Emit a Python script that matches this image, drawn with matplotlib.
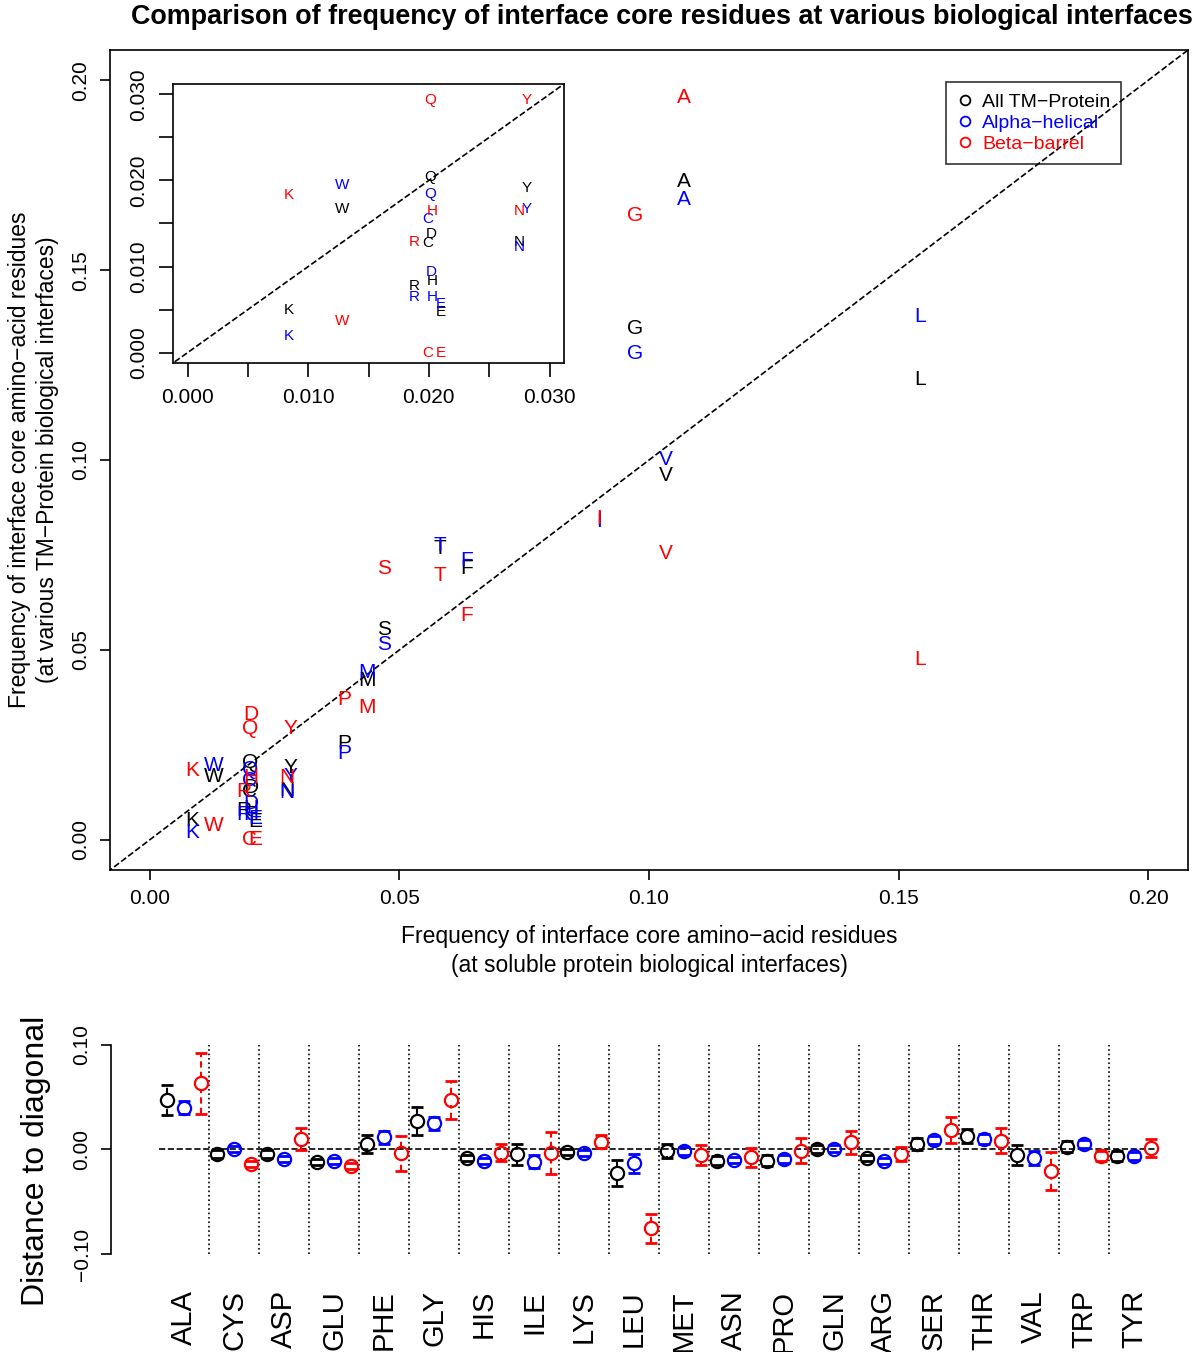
import numpy as np
import matplotlib.pyplot as plt
from matplotlib.lines import Line2D

plt.rcParams['font.family'] = ['Liberation Sans', 'DejaVu Sans']

# one-letter codes and three-letter names
aa = list("ACDEFGHIKLMNPQRSTVWY")
names = ['ALA', 'CYS', 'ASP', 'GLU', 'PHE', 'GLY', 'HIS', 'ILE', 'LYS', 'LEU',
         'MET', 'ASN', 'PRO', 'GLN', 'ARG', 'SER', 'THR', 'VAL', 'TRP', 'TYR']

# frequency at soluble protein interfaces (x)
soluble = [0.1070, 0.0199, 0.0202, 0.0210, 0.0635, 0.0972, 0.0203, 0.0900, 0.0084, 0.1543,
           0.0435, 0.0275, 0.0390, 0.0201, 0.0188, 0.0469, 0.0580, 0.1033, 0.0128, 0.0281]
# frequency at TM-protein interfaces (y)
all_tm = [0.1734, 0.0127, 0.0138, 0.0047, 0.0713, 0.1346, 0.0083, 0.0843, 0.0050, 0.1213,
          0.0418, 0.0129, 0.0254, 0.0204, 0.0077, 0.0554, 0.0767, 0.0958, 0.0167, 0.0191]
alpha = [0.1685, 0.0155, 0.0094, 0.0056, 0.0735, 0.1280, 0.0065, 0.0838, 0.0019, 0.1379,
         0.0440, 0.0123, 0.0228, 0.0184, 0.0065, 0.0515, 0.0775, 0.1002, 0.0195, 0.0167]
beta = [0.1954, 0.0000, 0.0330, 0.0000, 0.0590, 0.1644, 0.0164, 0.0846, 0.0183, 0.0475,
        0.0349, 0.0165, 0.0368, 0.0293, 0.0128, 0.0713, 0.0696, 0.0753, 0.0037, 0.0293]

# distance to diagonal with error
dist_all = [0.0474, -0.0046, -0.0046, -0.0117, 0.0053, 0.0273, -0.0085, -0.0046, -0.0027, -0.0228,
            -0.0014, -0.0107, -0.0107, 0.0002, -0.0085, 0.0053, 0.0129, -0.0053, 0.0027, -0.0062]
err_all = [0.014, 0.004, 0.004, 0.003, 0.009, 0.0135, 0.003, 0.010, 0.003, 0.0125,
           0.007, 0.004, 0.005, 0.004, 0.003, 0.006, 0.007, 0.010, 0.005, 0.005]
dist_alpha = [0.0400, 0.0005, -0.0091, -0.0110, 0.0117, 0.0250, -0.0107, -0.0117, -0.0037, -0.0132,
              -0.0014, -0.0101, -0.0094, 0.0008, -0.0107, 0.0091, 0.0098, -0.0085, 0.0053, -0.0062]
err_alpha = [0.0065, 0.003, 0.003, 0.003, 0.006, 0.006, 0.003, 0.0065, 0.003, 0.009,
             0.004, 0.003, 0.004, 0.003, 0.003, 0.004, 0.005, 0.0067, 0.004, 0.004]
dist_beta = [0.0633, -0.0142, 0.0098, -0.0155, -0.0037, 0.0474, -0.0030, -0.0037, 0.0075, -0.0754,
             -0.0053, -0.0075, -0.0014, 0.0069, -0.0046, 0.0187, 0.0084, -0.0206, -0.0062, 0.0011]
err_beta = [0.029, 0.003, 0.0105, 0.003, 0.017, 0.018, 0.008, 0.020, 0.006, 0.014,
            0.0095, 0.009, 0.012, 0.011, 0.0065, 0.0125, 0.012, 0.018, 0.005, 0.0087]

series = [('All TM\u2212Protein', all_tm, 'black'),
          ('Alpha\u2212helical', alpha, 'blue'),
          ('Beta\u2212barrel', beta, 'red')]

fig = plt.figure(figsize=(12, 13.52), dpi=100)

# ---- main scatter of letters
ax = fig.add_axes([0.0917, 0.3565, 0.8983, 0.6065])
ax.set_xlim(-0.008, 0.208)
ax.set_ylim(-0.008, 0.208)
ax.plot([-0.01, 0.21], [-0.01, 0.21], 'k--', lw=1.2)
for lab, ys, col in series:
    for a, x, y in zip(aa, soluble, ys):
        ax.text(x, y, a, color=col, fontsize=15, ha='center', va='center')
ticks = [0, 0.05, 0.10, 0.15, 0.20]
ax.set_xticks(ticks)
ax.set_xticklabels(['%.2f' % t for t in ticks])
ax.set_yticks(ticks)
ax.set_yticklabels(['%.2f' % t for t in ticks], rotation=90, va='center')
ax.tick_params(labelsize=15, length=7, width=1.2, pad=7)
for s in ax.spines.values():
    s.set_linewidth(1.2)
ax.set_xlabel('Frequency of interface core amino\u2212acid residues\n(at soluble protein biological interfaces)',
              fontsize=16.5, labelpad=12, linespacing=1.3)
ax.set_ylabel('Frequency of interface core amino\u2212acid residues\n(at various TM\u2212Protein biological interfaces)',
              fontsize=16.5, labelpad=9, linespacing=1.3)

handles = [Line2D([], [], marker='o', mfc='none', mec=c, ls='none', ms=7, mew=1.3) for _, _, c in series]
leg = ax.legend(handles, [s[0] for s in series], loc='upper left', bbox_to_anchor=(0.1596, 0.1995),
                bbox_transform=ax.transData, fontsize=14, frameon=True, fancybox=False,
                handlelength=0.8, handletextpad=0.5, borderpad=0.55, labelspacing=0.18, borderaxespad=0)
leg.get_frame().set_edgecolor('black')
leg.get_frame().set_linewidth(1.2)
leg.get_frame().set_facecolor('none')
for t, (_, _, c) in zip(leg.get_texts(), series):
    t.set_color(c)

# ---- inset zoom of the low-frequency corner
ins = fig.add_axes([0.1442, 0.7315, 0.3258, 0.2064])
ins.set_xlim(-0.0012, 0.0312)
ins.set_ylim(-0.0012, 0.0312)
ins.plot([-0.01, 0.04], [-0.01, 0.04], 'k--', lw=1.2)
for lab, ys, col in series:
    for a, x, y in zip(aa, soluble, ys):
        if x <= 0.031 and y <= 0.031:
            ins.text(x, y, a, color=col, fontsize=11, ha='center', va='center', clip_on=True)
iticks = [0, 0.005, 0.010, 0.015, 0.020, 0.025, 0.030]
ilabels = ['0.000', '', '0.010', '', '0.020', '', '0.030']
ins.set_xticks(iticks)
ins.set_xticklabels(ilabels)
ins.set_yticks(iticks)
ins.set_yticklabels(ilabels, rotation=90, va='center')
ins.tick_params(labelsize=15, length=10, width=1.2, pad=8)
for s in ins.spines.values():
    s.set_linewidth(1.2)

# ---- distance to diagonal
bx = fig.add_axes([0.0925, 0.0725, 0.8975, 0.1546])
n = len(names)
pos = np.arange(n)
bx.set_xlim(-1.46, 20.08)
bx.set_ylim(-0.1, 0.1)
bx.hlines(0, -0.5, n - 0.5, colors='black', linestyles='--', lw=1.2)
bx.vlines(pos[:-1] + 0.5, -0.1, 0.1, colors='black', linestyles=':', lw=1.2)
gap = 0.0053
cap = 0.12
dists = [(dist_all, err_all, 'black'), (dist_alpha, err_alpha, 'blue'), (dist_beta, err_beta, 'red')]
for k, (d, e, col) in enumerate(dists):
    xs = pos + (k - 1) / 3
    d = np.array(d)
    e = np.array(e)
    big = e > gap
    bx.vlines(xs[big], d[big] + gap, d[big] + e[big], colors=col, linestyles=(0, (3, 2)), lw=1.5)
    bx.vlines(xs[big], d[big] - e[big], d[big] - gap, colors=col, linestyles=(0, (3, 2)), lw=1.5)
    bx.hlines(d + e, xs - cap, xs + cap, colors=col, lw=2)
    bx.hlines(d - e, xs - cap, xs + cap, colors=col, lw=2)
    bx.plot(xs, d, 'o', mfc='none', mec=col, ms=9.5, mew=1.6, ls='none')
for s in ['top', 'right', 'bottom']:
    bx.spines[s].set_visible(False)
bx.spines['left'].set_linewidth(1.2)
bx.set_yticks([-0.1, 0, 0.1])
bx.set_yticklabels(['\u22120.10', '0.00', '0.10'], rotation=90, va='center')
bx.set_xticks(pos)
bx.set_xticklabels(names, rotation=90)
bx.tick_params(axis='y', labelsize=15, length=7, width=1.2, pad=7)
bx.tick_params(axis='x', labelsize=21, length=0, pad=26)
bx.set_ylabel('Distance to diagonal', fontsize=23)
bx.yaxis.set_label_coords(-0.056, 0.447)

fig.suptitle('Comparison of frequency of interface core residues at various biological interfaces',
             x=0.552, y=0.997, fontsize=19.4, fontweight='bold', va='top')

fig.savefig('out.png', dpi=100)
